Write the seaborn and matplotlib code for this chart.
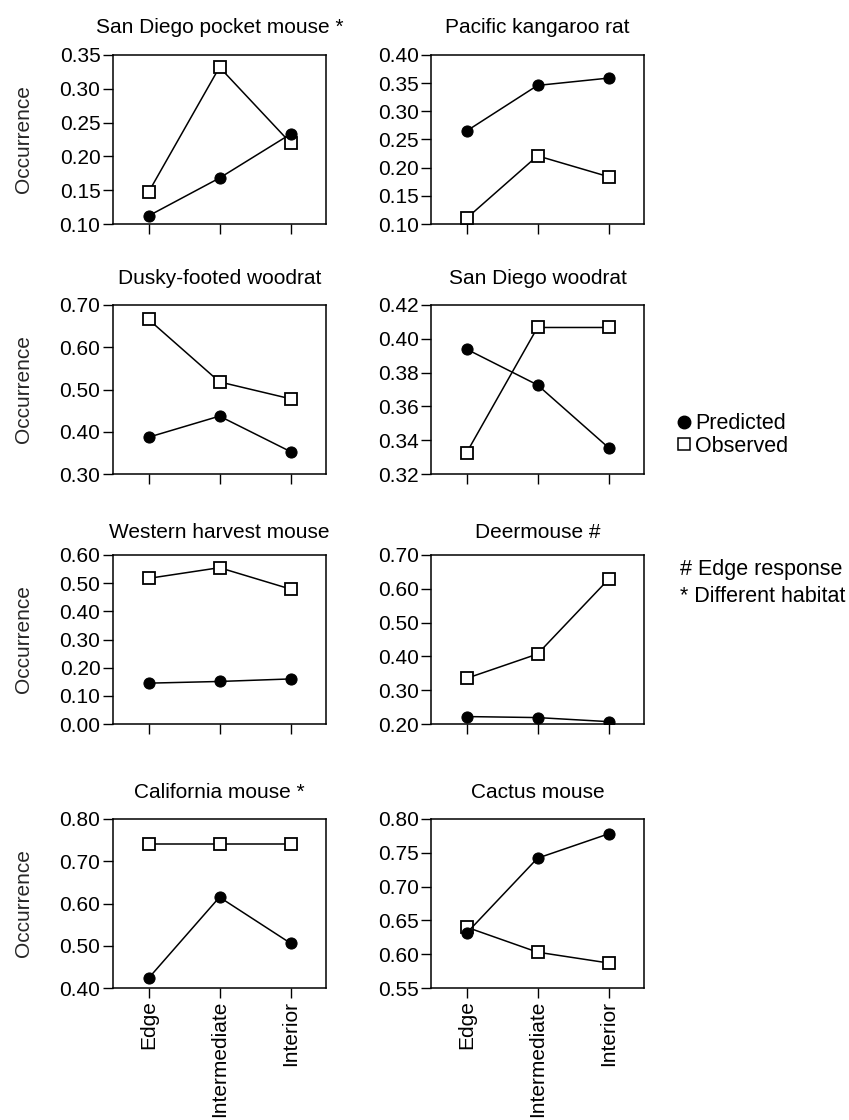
import matplotlib
matplotlib.use('Agg')
import matplotlib.pyplot as plt
from matplotlib.lines import Line2D
from matplotlib.ticker import FormatStrFormatter
import numpy as np
import pandas as pd
import seaborn as sns

# Data
categories = ['Edge', 'Intermediate', 'Interior']

titles = ['San Diego pocket mouse *', 'Pacific kangaroo rat',
          'Dusky-footed woodrat', 'San Diego woodrat',
          'Western harvest mouse', 'Deermouse #',
          'California mouse *', 'Cactus mouse']

pocket_pred = [0.112, 0.168, 0.233]
pocket_obs = [0.147, 0.332, 0.220]
kangaroo_pred = [0.265, 0.346, 0.359]
kangaroo_obs = [0.110, 0.221, 0.184]
dusky_pred = [0.387, 0.437, 0.353]
dusky_obs = [0.666, 0.518, 0.478]
sdwoodrat_pred = [0.3939, 0.3727, 0.3356]
sdwoodrat_obs = [0.3325, 0.4067, 0.4067]
harvest_pred = [0.145, 0.151, 0.160]
harvest_obs = [0.517, 0.555, 0.479]
deer_pred = [0.222, 0.219, 0.207]
deer_obs = [0.335, 0.407, 0.628]
california_pred = [0.423, 0.615, 0.506]
california_obs = [0.741, 0.741, 0.741]
cactus_pred = [0.631, 0.742, 0.778]
cactus_obs = [0.640, 0.603, 0.587]

# y axis ranges (min, max, step)
y_ranges = [(0.10, 0.35, 0.05), (0.10, 0.40, 0.05),
            (0.30, 0.70, 0.10), (0.32, 0.42, 0.02),
            (0.00, 0.60, 0.10), (0.20, 0.70, 0.10),
            (0.40, 0.80, 0.10), (0.55, 0.80, 0.05)]

predicted = [pocket_pred, kangaroo_pred, dusky_pred, sdwoodrat_pred,
             harvest_pred, deer_pred, california_pred, cactus_pred]
observed = [pocket_obs, kangaroo_obs, dusky_obs, sdwoodrat_obs,
            harvest_obs, deer_obs, california_obs, cactus_obs]

sns.set_theme(style='ticks')
plt.rcParams['font.family'] = ['Liberation Sans', 'DejaVu Sans']
plt.rcParams['axes.edgecolor'] = 'black'
plt.rcParams['xtick.color'] = 'black'
plt.rcParams['ytick.color'] = 'black'
plt.rcParams['text.color'] = 'black'

W, H = 849, 1120
fig = plt.figure(figsize=(W / 100, H / 100), dpi=100)

col_x = [113, 431]
ax_w = 213
row_top = [55, 305, 555, 819]
ax_h = 169
title_pads = [16, 15, 12, 15]
fs = 15

x = np.arange(len(categories))

for i, title in enumerate(titles):
    r, c = divmod(i, 2)
    left = col_x[c] / W
    bottom = 1 - (row_top[r] + ax_h) / H
    ax = fig.add_axes([left, bottom, ax_w / W, ax_h / H])

    df = pd.DataFrame({'pos': x, 'pred': predicted[i], 'obs': observed[i]})
    sns.lineplot(data=df, x='pos', y='obs', ax=ax, color='black', lw=1.1,
                 marker='s', markersize=9, markerfacecolor='white',
                 markeredgecolor='black', markeredgewidth=1.3, zorder=3)
    sns.lineplot(data=df, x='pos', y='pred', ax=ax, color='black', lw=1.1,
                 marker='o', markersize=8, markerfacecolor='black',
                 markeredgecolor='black', zorder=4)

    ymin, ymax, step = y_ranges[i]
    ax.set_ylim(ymin, ymax)
    ax.set_yticks(np.arange(ymin, ymax + step / 2, step))
    ax.yaxis.set_major_formatter(FormatStrFormatter('%.2f'))
    ax.set_xlim(-0.5, 2.5)
    ax.set_xticks(x)
    if r == 3:
        ax.set_xticklabels(categories, rotation=90)
    else:
        ax.set_xticklabels([])
    ax.set_xlabel('')
    if c == 0:
        ax.set_ylabel('Occurrence', fontsize=fs)
        ax.yaxis.set_label_coords(-0.375, 0.5)
    else:
        ax.set_ylabel('')
    ax.set_title(title, fontsize=fs, pad=title_pads[r])
    ax.tick_params(axis='both', labelsize=fs, length=7, width=1, pad=2,
                   direction='out')
    for sp in ax.spines.values():
        sp.set_visible(True)
        sp.set_linewidth(1.1)
        sp.set_color('black')

handles = [Line2D([], [], marker='o', color='black', linestyle='none',
                  markersize=9),
           Line2D([], [], marker='s', color='black', markerfacecolor='white',
                  linestyle='none', markersize=8, markeredgewidth=1.1)]
fig.legend(handles, ['Predicted', 'Observed'], loc='center left',
           bbox_to_anchor=(676 / W, 1 - 435 / H), frameon=False,
           fontsize=fs + 0.5, handlelength=0.7, handletextpad=0.2,
           borderpad=0, borderaxespad=0, labelspacing=0.05)

fig.text(680 / W, 1 - 570 / H, '# Edge response', fontsize=fs + 0.5,
         va='center')
fig.text(680 / W, 1 - 597 / H, '* Different habitat', fontsize=fs + 0.5,
         va='center')

fig.savefig('out.png', dpi=100, facecolor='white')
